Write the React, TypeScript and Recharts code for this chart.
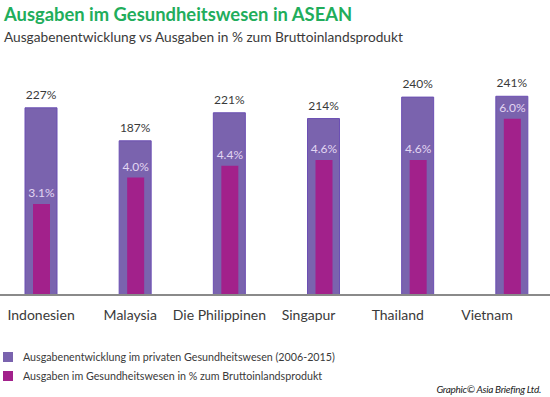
import React from "react";
import { BarChart, Bar, XAxis, YAxis, LabelList } from "recharts";

const countries = ["Indonesien", "Malaysia", "Die Philippinen", "Singapur", "Thailand", "Vietnam"];
const privateGrowth = [227, 187, 221, 214, 240, 241];
const gdpShare = [3.1, 4.0, 4.4, 4.6, 4.6, 6.0];

const legendLabels = [
  "Ausgabenentwicklung im privaten Gesundheitswesen (2006-2015)",
  "Ausgaben im Gesundheitswesen in % zum Bruttoinlandsprodukt",
];

const data = countries.map((name, i) => ({
  name,
  growth: privateGrowth[i],
  share: gdpShare[i],
}));

const PURPLE = "#7a63ae";
const MAGENTA = "#a2218b";
const FONT = "Lato, 'Open Sans', sans-serif";

// labels in the source drift a little to the left of their bars
const CountryTick = (props: any) => {
  const { x, y, payload, index } = props;
  return (
    <text
      x={x - index * 5}
      y={y}
      dy={17}
      textAnchor="middle"
      fill="#3a3a3a"
      fontSize={14}
      fontFamily={FONT}
    >
      {payload.value}
    </text>
  );
};

export default function App() {
  return (
    <div
      style={{
        position: "absolute",
        left: 0,
        top: 0,
        width: 550,
        height: 397,
        background: "#fff",
        overflow: "hidden",
        fontFamily: FONT,
      }}
    >
      <div style={{ position: "absolute", left: 4, top: 3, fontSize: 18.4, fontWeight: 700, color: "#21ad5b" }}>
        Ausgaben im Gesundheitswesen in ASEAN
      </div>
      <div style={{ position: "absolute", left: 4, top: 28, fontSize: 13.7, color: "#3a3a3a" }}>
        Ausgabenentwicklung vs Ausgaben in % zum Bruttoinlandsprodukt
      </div>

      <BarChart
        width={550}
        height={397}
        data={data}
        margin={{ top: 60, right: -9, left: -6, bottom: 72 }}
      >
        <XAxis
          xAxisId="a"
          dataKey="name"
          height={30}
          axisLine={{ stroke: "#8a8a8a", strokeWidth: 2 }}
          tickLine={false}
          tick={<CountryTick />}
          interval={0}
        />
        <XAxis xAxisId="b" dataKey="name" hide />
        <YAxis yAxisId="left" domain={[0, 285]} hide />
        <YAxis yAxisId="right" domain={[0, 8]} hide />
        <Bar
          xAxisId="a"
          yAxisId="left"
          dataKey="growth"
          barSize={32}
          fill={PURPLE}
          stroke="#6b4fb3"
          strokeWidth={1}
          isAnimationActive={false}
        >
          <LabelList
            dataKey="growth"
            position="top"
            offset={9}
            formatter={(v: any) => `${v}%`}
            fill="#3a3a3a"
            fontSize={12}
            fontFamily={FONT}
          />
        </Bar>
        <Bar
          xAxisId="b"
          yAxisId="right"
          dataKey="share"
          barSize={17}
          fill={MAGENTA}
          isAnimationActive={false}
        >
          <LabelList
            dataKey="share"
            position="top"
            offset={7}
            formatter={(v: any) => `${Number(v).toFixed(1)}%`}
            fill="#e2d6f2"
            fontSize={12}
            fontFamily={FONT}
          />
        </Bar>
      </BarChart>

      {legendLabels.map((label, i) => (
        <div
          key={label}
          style={{
            position: "absolute",
            left: 3,
            top: 350 + i * 19,
            display: "flex",
            alignItems: "center",
            fontSize: 10.7,
            color: "#3a3a3a",
          }}
        >
          <span
            style={{
              width: 10,
              height: 10,
              background: i === 0 ? PURPLE : MAGENTA,
              marginRight: 10,
              display: "inline-block",
            }}
          />
          {label}
        </div>
      ))}

      <div
        style={{
          position: "absolute",
          right: 9,
          top: 383,
          fontSize: 10,
          fontStyle: "italic",
          letterSpacing: -0.3,
          color: "#222",
        }}
      >
        Graphic© Asia Briefing Ltd.
      </div>
    </div>
  );
}
